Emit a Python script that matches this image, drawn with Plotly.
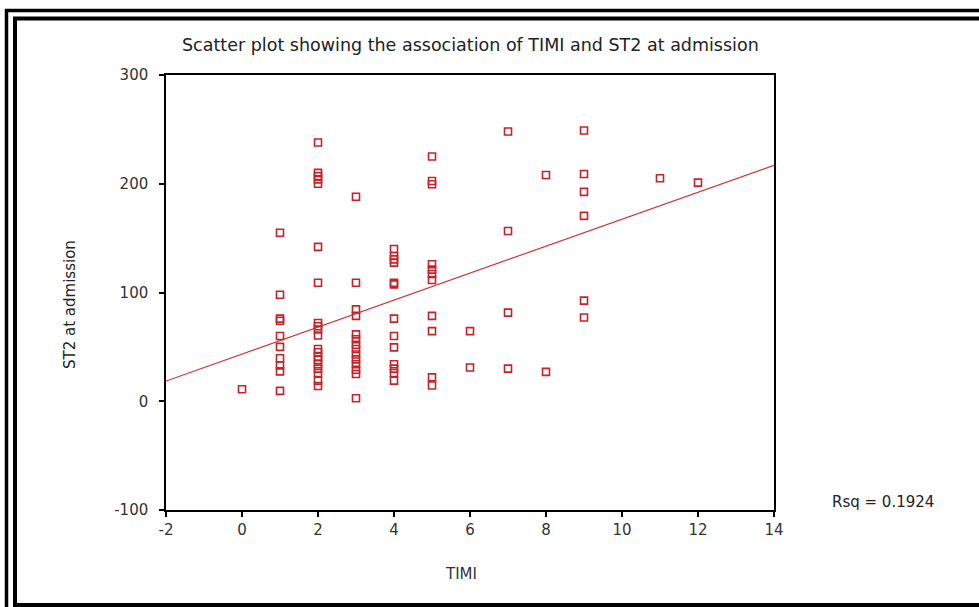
import plotly.graph_objects as go

# TIMI score groups and ST2 values
st2_timi0 = [11]
st2_timi1 = [155, 98, 76, 74, 60, 50, 39.5, 33, 27.5, 9.5]
st2_timi2 = [238, 210, 207, 204, 200, 142, 109, 72, 69, 66, 60.5, 48, 45, 41, 38, 34, 30, 26, 19, 14]
st2_timi3 = [188, 109, 84.5, 78.5, 61.5, 57, 52, 48, 43, 38.5, 34, 29, 25, 2.7]
st2_timi4 = [140, 133.5, 130.5, 127.5, 109, 107.5, 76, 60, 49.5, 34, 30, 26, 19]
st2_timi5 = [225, 202.5, 199.5, 126, 121, 117, 111.5, 78.5, 64.5, 22, 14.5]
st2_timi6 = [64.5, 31]
st2_timi7 = [248, 156.5, 81.5, 30]
st2_timi8 = [208, 27]
st2_timi9 = [249, 209, 192.5, 170.5, 92.5, 77]
st2_timi11 = [205]
st2_timi12 = [201]

groups = {0: st2_timi0, 1: st2_timi1, 2: st2_timi2, 3: st2_timi3, 4: st2_timi4,
          5: st2_timi5, 6: st2_timi6, 7: st2_timi7, 8: st2_timi8, 9: st2_timi9,
          11: st2_timi11, 12: st2_timi12}

# Linear fit line
fit_intercept = 43.4
fit_slope = 12.4
fit_x = [-2, 14]
rsq_text = "Rsq = 0.1924"

x_ticks = [-2, 0, 2, 4, 6, 8, 10, 12, 14]
x_tick_labels = ["-2", "0", "2", "4", "6", "8", "10", "12", "14"]
y_ticks = [-100, 0, 100, 200, 300]
y_tick_labels = ["-100", "0", "100", "200", "300"]

xs, ys = [], []
for k, vals in groups.items():
    xs += [k] * len(vals)
    ys += vals

FONT = "DejaVu Sans, Arial, sans-serif"
RED = "#c4232a"

fig = go.Figure()
fig.add_trace(go.Scatter(
    x=fit_x, y=[fit_intercept + fit_slope * v for v in fit_x],
    mode="lines", line=dict(color="#cc3333", width=1.2),
    hoverinfo="skip", showlegend=False))
fig.add_trace(go.Scatter(
    x=xs, y=ys, mode="markers",
    marker=dict(symbol="square-open", size=7, color=RED, line=dict(width=1.6, color=RED)),
    showlegend=False))

W, H = 979, 607
L, R, T, B = 166, 205, 75, 97
pw, ph = W - L - R, H - T - B

def px(x):
    return (x - L) / pw

def py(y):
    return (H - B - y) / ph

shapes = []
def hline(y, x0, x1, w):
    shapes.append(dict(type="line", xref="paper", yref="paper", x0=px(x0), x1=px(x1),
                       y0=py(y), y1=py(y), line=dict(color="black", width=w)))
def vline(x, y0, y1, w):
    shapes.append(dict(type="line", xref="paper", yref="paper", x0=px(x), x1=px(x),
                       y0=py(y0), y1=py(y1), line=dict(color="black", width=w)))

# double frame
vline(6.5, 9, 620, 3.5)
hline(10.5, 5, 990, 3.5)
vline(15, 17, 607, 4)
hline(18.5, 13, 990, 4)
hline(605, 13, 990, 4)

fig.update_layout(
    width=W, height=H,
    margin=dict(l=L, r=R, t=T, b=B),
    paper_bgcolor="white", plot_bgcolor="white",
    font=dict(family=FONT, size=15, color="#333333"),
    shapes=shapes,
    annotations=[
        dict(text="Scatter plot showing the association of TIMI and ST2 at admission",
             xref="paper", yref="paper", x=0.5, y=py(45), xanchor="center", yanchor="middle",
             showarrow=False, font=dict(size=17.5, color="#222222")),
        dict(text="ST2 at admission", xref="paper", yref="paper", x=px(70), y=py(305),
             textangle=-90, xanchor="center", yanchor="middle", showarrow=False,
             font=dict(size=15, color="#222222")),
        dict(text="TIMI", xref="paper", yref="paper", x=px(461), y=py(574),
             xanchor="center", yanchor="middle", showarrow=False,
             font=dict(size=15, color="#333333")),
        dict(text=rsq_text, xref="paper", yref="paper", x=px(830), y=py(502),
             xanchor="left", yanchor="middle", showarrow=False,
             font=dict(size=15, color="#222222")),
    ],
    xaxis=dict(range=[-2, 14], tickvals=x_ticks, ticktext=x_tick_labels,
               showgrid=False, zeroline=False,
               showline=True, linecolor="black", linewidth=1.5, mirror=True,
               ticks="outside", ticklen=5, tickwidth=2, tickcolor="black",
               tickfont=dict(size=15, color="#333333")),
    yaxis=dict(range=[-100, 300], tickvals=y_ticks, ticktext=y_tick_labels,
               showgrid=False, zeroline=False,
               showline=True, linecolor="black", linewidth=1.5, mirror=True,
               ticks="outside", ticklen=5, tickwidth=2, tickcolor="black",
               ticklabelstandoff=8,
               tickfont=dict(size=15, color="#333333")),
)

fig.write_html("out.html", config={"displayModeBar": False},
               post_script="document.body.style.margin='0px';")
